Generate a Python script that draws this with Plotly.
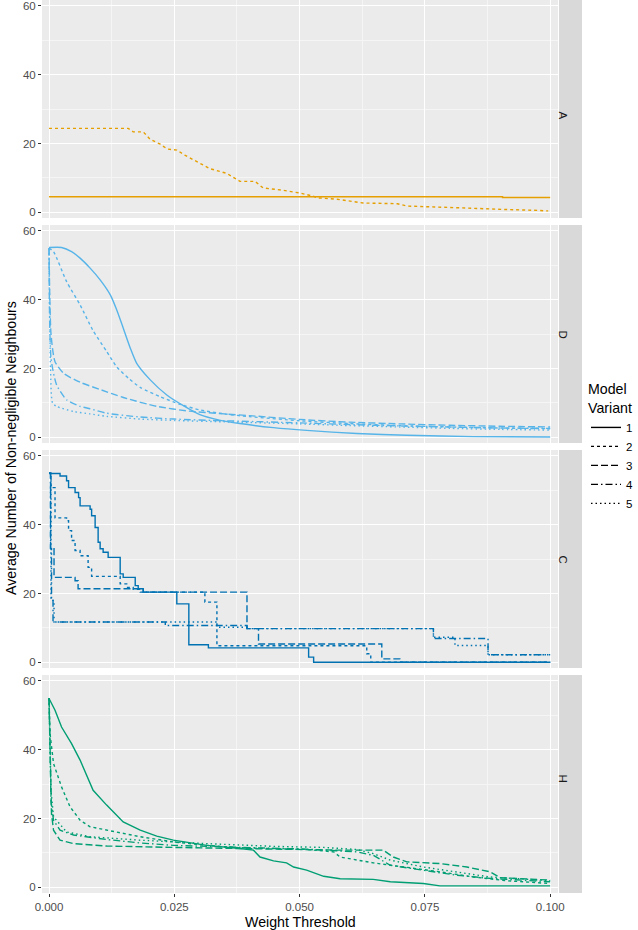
import plotly.graph_objects as go

# ---------------- data ----------------
panels = ["A", "D", "C", "H"]
variants = ["1", "2", "3", "4", "5"]
x_tick_vals = [0, 0.025, 0.05, 0.075, 0.1]
x_tick_text = ["0.000", "0.025", "0.050", "0.075", "0.100"]
y_tick_vals = [0, 20, 40, 60]

# Panel A
a_v1_x = [0, 0.0905, 0.1]
a_v1_y = [4.5, 4.3, 4.3]
a_v2_x = [0, 0.0158, 0.0168, 0.0188, 0.0202, 0.0222, 0.0236, 0.0255, 0.0271, 0.0295, 0.0321,
          0.0355, 0.0381, 0.0411, 0.0427, 0.0467, 0.0501, 0.0527, 0.0535, 0.0575, 0.0607, 0.0627,
          0.0695, 0.0715, 0.0800, 0.0874, 0.0914, 0.0966, 0.0996]
a_v2_y = [24.4, 24.4, 23.4, 23.4, 21.2, 19.8, 18.4, 18.1, 16.6, 14.7, 12.7,
          11.3, 9.0, 9.0, 7.1, 6.4, 5.6, 4.7, 4.2, 3.8, 3.1, 2.7,
          2.5, 1.8, 1.4, 0.9, 0.8, 0.6, 0.4]

# Panel D
d_v1_x = [0, 0.0025, 0.0045, 0.0062, 0.0082, 0.0102, 0.0122, 0.0135, 0.0148, 0.0162, 0.0175,
          0.0202, 0.0235, 0.0268, 0.0301, 0.0340, 0.0381, 0.0448, 0.0514, 0.0614, 0.0714, 0.0847, 0.1]
d_v1_y = [55.2, 55.2, 54.0, 52.1, 49.2, 45.8, 41.5, 37.1, 31.8, 26.0, 21.5,
          16.7, 12.3, 9.2, 6.6, 5.0, 4.0, 2.8, 2.0, 1.1, 0.6, 0.2, 0.1]
d_v2_x = [0, 0.0009, 0.0035, 0.0062, 0.0088, 0.0115, 0.0135, 0.016, 0.0182, 0.0222, 0.0261,
          0.030, 0.035, 0.040, 0.050, 0.060, 0.070, 0.080, 0.090, 0.1]
d_v2_y = [55, 54, 45.3, 38.5, 31.0, 25.0, 20.5, 17.0, 14.5, 11.8, 9.6,
          8.0, 6.8, 6.0, 4.8, 4.0, 3.4, 3.0, 2.7, 2.5]
d_v3_x = [0, 0.0004, 0.0012, 0.003, 0.0062, 0.010, 0.015, 0.0215, 0.028, 0.035, 0.04,
          0.05, 0.06, 0.07, 0.08, 0.09, 0.1]
d_v3_y = [55, 30, 22, 18.5, 16, 14, 11.5, 9, 7.6, 6.8, 6.3,
          5.2, 4.4, 3.9, 3.5, 3.2, 3.0]
d_v4_x = [0, 0.0004, 0.0015, 0.0035, 0.0062, 0.0082, 0.0115, 0.0182, 0.025, 0.035, 0.05,
          0.06, 0.07, 0.08, 0.09, 0.1]
d_v4_y = [55, 23, 15.3, 10.9, 9.0, 8.3, 7.0, 5.9, 5.3, 4.8, 4.2,
          3.7, 3.3, 3.0, 2.7, 2.6]
d_v5_x = [0, 0.0003, 0.0007, 0.0015, 0.0049, 0.0082, 0.0115, 0.0182, 0.025, 0.035, 0.05,
          0.06, 0.07, 0.08, 0.09, 0.1]
d_v5_y = [55, 20, 10, 9.0, 7.5, 6.8, 6.1, 5.3, 4.9, 4.5, 3.9,
          3.4, 3.0, 2.6, 2.3, 2.1]

# Panel C (step functions: value holds from x until next x)
c_v1_x = [0, 0.0022, 0.0035, 0.0039, 0.0052, 0.0059, 0.0062, 0.0082, 0.0085, 0.0092, 0.0098,
          0.0102, 0.0108, 0.0118, 0.0142, 0.0148, 0.0172, 0.0178, 0.0188, 0.0255, 0.0279,
          0.0318, 0.0518, 0.0528, 0.1]
c_v1_y = [54.9, 54.2, 52.8, 50.8, 49.4, 47.9, 45.5, 44.5, 42.6, 39.2, 34.9,
          33.0, 32.0, 30.5, 25.7, 24.7, 22.3, 21.4, 20.4, 17.0, 5.1,
          4.2, 1.5, 0.0, 0.0]
c_v2_x = [0, 0.0004, 0.0012, 0.0035, 0.0039, 0.0045, 0.0052, 0.0062, 0.0078, 0.0085, 0.0142,
          0.0155, 0.0168, 0.0182, 0.0311, 0.0335, 0.0634, 0.0642, 0.1]
c_v2_y = [55, 50.8, 42.0, 41.2, 38.3, 35.4, 32.5, 31.0, 27.6, 25.0, 22.8,
          21.8, 21.2, 20.4, 17.5, 4.8, 2.5, 0.0, 0.0]
c_v3_x = [0, 0.0003, 0.0010, 0.0052, 0.0058, 0.0188, 0.0395, 0.0418, 0.0664, 0.0700, 0.1]
c_v3_y = [55, 33, 24.7, 23.7, 21.4, 20.4, 9.8, 5.3, 1.0, 0.0, 0.0]
c_v4_x = [0, 0.0003, 0.0005, 0.0008, 0.0232, 0.0395, 0.0767, 0.0876, 0.1]
c_v4_y = [55, 33, 18, 11.7, 10.7, 9.8, 6.9, 2.2, 2.2]
c_v5_x = [0, 0.0004, 0.0010, 0.0335, 0.0395, 0.0767, 0.0810, 0.0876, 0.1]
c_v5_y = [55, 18, 11.7, 10.2, 9.8, 7.3, 4.9, 2.2, 2.2]

# Panel H
h_v1_x = [0, 0.0012, 0.0025, 0.0035, 0.0045, 0.0062, 0.0088, 0.0115, 0.0148, 0.0182, 0.0215,
          0.0248, 0.0315, 0.0381, 0.0408, 0.0421, 0.0448, 0.0474, 0.0488, 0.0514, 0.0548,
          0.0581, 0.0647, 0.0681, 0.0747, 0.078, 0.1]
h_v1_y = [54.9, 51.5, 46.6, 44.2, 41.8, 37.0, 28.2, 23.9, 19.0, 16.6, 14.9,
          13.7, 12.2, 11.3, 10.8, 8.8, 7.7, 7.1, 5.9, 5.0, 3.2,
          2.5, 2.3, 1.6, 1.1, 0.4, 0.4]
h_v2_x = [0, 0.0002, 0.0009, 0.0025, 0.0042, 0.0062, 0.0082, 0.0115, 0.0182, 0.0248, 0.0315,
          0.0381, 0.0514, 0.0568, 0.0581, 0.0647, 0.0714, 0.078, 0.0847, 0.0914, 0.1]
h_v2_y = [55, 44.7, 36.0, 29.2, 23.4, 19.5, 17.6, 16.6, 14.7, 13.2, 12.2,
          11.5, 11.0, 10.3, 8.8, 7.1, 5.9, 4.5, 3.0, 1.9, 1.1]
h_v3_x = [0, 0.0003, 0.0005, 0.0009, 0.0022, 0.0049, 0.0115, 0.0248, 0.0381, 0.0514, 0.0581,
          0.0667, 0.0687, 0.0714, 0.078, 0.0834, 0.088, 0.09, 0.1]
h_v3_y = [55, 30, 21.4, 16.6, 13.7, 12.7, 12.0, 11.6, 11.2, 11.0, 10.8,
          10.8, 8.8, 7.4, 6.9, 5.9, 4.5, 2.8, 2.1]
h_v4_x = [0, 0.0004, 0.0009, 0.0022, 0.0049, 0.0115, 0.0182, 0.0248, 0.0381, 0.0514, 0.0614,
          0.0647, 0.0681, 0.0747, 0.0814, 0.088, 0.1]
h_v4_y = [55, 25, 19.5, 16.6, 15.2, 13.9, 12.9, 12.2, 11.6, 11.1, 10.3,
          9.3, 6.4, 5.0, 3.5, 2.6, 1.6]
h_v5_x = [0, 0.0004, 0.0009, 0.0035, 0.0082, 0.0182, 0.0315, 0.0448, 0.0548, 0.0614, 0.0647,
          0.0681, 0.0747, 0.0814, 0.088, 0.1]
h_v5_y = [55, 28, 20.5, 16.1, 14.7, 13.7, 12.7, 11.9, 11.6, 11.0, 9.8,
          7.9, 5.9, 4.5, 3.0, 1.9]

# ---------------- styling ----------------
panel_colors = {"A": "#E69F00", "D": "#56B4E9", "C": "#0072B2", "H": "#009E73"}
dash_styles = {"1": "solid", "2": "3px,3px", "3": "7px,3px", "4": "7px,3px,1.5px,3px", "5": "1.5px,3px"}
line_w = 1.4
FONT = "Liberation Sans, Arial, Helvetica, sans-serif"
TICK_SIZE = 11.5
TITLE_SIZE = 14.2

series = {
    "A": [("1", a_v1_x, a_v1_y, "hv"), ("2", a_v2_x, a_v2_y, "linear")],
    "D": [("1", d_v1_x, d_v1_y, "spline"), ("2", d_v2_x, d_v2_y, "spline"), ("3", d_v3_x, d_v3_y, "spline"),
          ("4", d_v4_x, d_v4_y, "spline"), ("5", d_v5_x, d_v5_y, "spline")],
    "C": [("1", c_v1_x, c_v1_y, "hv"), ("2", c_v2_x, c_v2_y, "hv"), ("3", c_v3_x, c_v3_y, "hv"),
          ("4", c_v4_x, c_v4_y, "hv"), ("5", c_v5_x, c_v5_y, "hv")],
    "H": [("1", h_v1_x, h_v1_y, "linear"), ("2", h_v2_x, h_v2_y, "linear"), ("3", h_v3_x, h_v3_y, "linear"),
          ("4", h_v4_x, h_v4_y, "linear"), ("5", h_v5_x, h_v5_y, "linear")],
}

# layout geometry (paper fractions)
H_PLOT = 893.0
def ydom(top_px, bot_px):
    return [1 - bot_px / H_PLOT, 1 - top_px / H_PLOT]

y_domains = {"A": ydom(0, 218), "D": ydom(225, 443), "C": ydom(450, 668), "H": ydom(675, 893)}
x_domain = [0, 516 / 540]
strip_x = [517 / 540, 1.0]
x_range = [-0.0014, 0.10156]
y_range = [-1.66, 61.74]

fig = go.Figure()

for i, p in enumerate(panels):
    ax = "" if i == 0 else str(i + 1)
    for v, xs, ys, shape in series[p]:
        fig.add_trace(go.Scatter(
            x=xs, y=ys, mode="lines",
            line=dict(color=panel_colors[p], dash=dash_styles[v], width=line_w, shape=shape,
                      smoothing=0.6 if shape == "spline" else None),
            xaxis="x" + ax, yaxis="y" + ax, showlegend=False, hoverinfo="skip",
        ))

# legend entries
for v in variants:
    fig.add_trace(go.Scatter(
        x=[None], y=[None], mode="lines", name=v,
        line=dict(color="black", dash=dash_styles[v], width=line_w),
        xaxis="x", yaxis="y", showlegend=True,
    ))

layout = dict(
    width=638, height=930,
    margin=dict(l=42, r=56, t=0, b=37, autoexpand=False),
    paper_bgcolor="white", plot_bgcolor="#EBEBEB",
    font=dict(family=FONT, color="#1A1A1A"),
    legend=dict(
        x=(586 - 42) / 540, xanchor="left", y=1 - 376 / H_PLOT, yanchor="top",
        title=dict(text="Model<br>Variant", font=dict(size=TITLE_SIZE, color="#000000")),
        font=dict(size=TICK_SIZE, color="#000000"), itemwidth=30, bgcolor="rgba(0,0,0,0)",
        tracegroupgap=0,
    ),
    shapes=[], annotations=[],
)

for i, p in enumerate(panels):
    ax = "" if i == 0 else str(i + 1)
    bottom = (i == len(panels) - 1)
    layout["xaxis" + ax] = dict(
        domain=x_domain, range=x_range, anchor="y" + ax,
        tickvals=x_tick_vals, ticktext=x_tick_text,
        showticklabels=bottom, ticks="outside" if bottom else "", ticklen=3,
        tickcolor="#333333", tickwidth=1,
        tickfont=dict(size=TICK_SIZE, color="#4D4D4D", family=FONT),
        ticklabeloverflow="allow",
        showgrid=True, gridcolor="white", gridwidth=1.1,
        minor=dict(tickvals=[0.0125, 0.0375, 0.0625, 0.0875], showgrid=True,
                   gridcolor="#F5F5F5", gridwidth=0.6),
        zeroline=False, showline=False, fixedrange=True,
    )
    layout["yaxis" + ax] = dict(
        domain=y_domains[p], range=y_range, anchor="x" + ax,
        tickvals=y_tick_vals, ticks="outside", ticklen=3, tickcolor="#333333", tickwidth=1,
        tickfont=dict(size=TICK_SIZE, color="#4D4D4D", family=FONT),
        ticklabeloverflow="allow",
        showgrid=True, gridcolor="white", gridwidth=1.1,
        minor=dict(tickvals=[10, 30, 50], showgrid=True, gridcolor="#F5F5F5", gridwidth=0.6),
        zeroline=False, showline=False, fixedrange=True,
    )
    d = y_domains[p]
    layout["shapes"].append(dict(type="rect", xref="paper", yref="paper",
                                 x0=strip_x[0], x1=strip_x[1], y0=d[0], y1=d[1],
                                 fillcolor="#D9D9D9", line=dict(width=0), layer="below"))
    layout["annotations"].append(dict(text=p, xref="paper", yref="paper",
                                      x=(strip_x[0] + strip_x[1]) / 2, y=(d[0] + d[1]) / 2,
                                      showarrow=False, textangle=90,
                                      font=dict(size=TICK_SIZE, color="#1A1A1A", family=FONT)))

layout["annotations"].append(dict(
    text="Average Number of Non-negligible Neighbours", xref="paper", yref="paper",
    x=(11 - 42) / 540, y=1 - 448 / H_PLOT, showarrow=False, textangle=-90,
    xanchor="center", yanchor="middle", font=dict(size=TITLE_SIZE, color="#000000", family=FONT)))
layout["annotations"].append(dict(
    text="Weight Threshold", xref="paper", yref="paper",
    x=(300 - 42) / 540, y=(H_PLOT - 922) / H_PLOT, showarrow=False,
    xanchor="center", yanchor="middle", font=dict(size=TITLE_SIZE, color="#000000", family=FONT)))

fig.update_layout(**layout)
fig.write_html(
    "out.html",
    config={"displayModeBar": False},
    post_script="document.body.style.margin='0';document.body.style.padding='0';"
                "document.body.style.overflow='hidden';"
                "document.documentElement.style.overflow='hidden';",
)
